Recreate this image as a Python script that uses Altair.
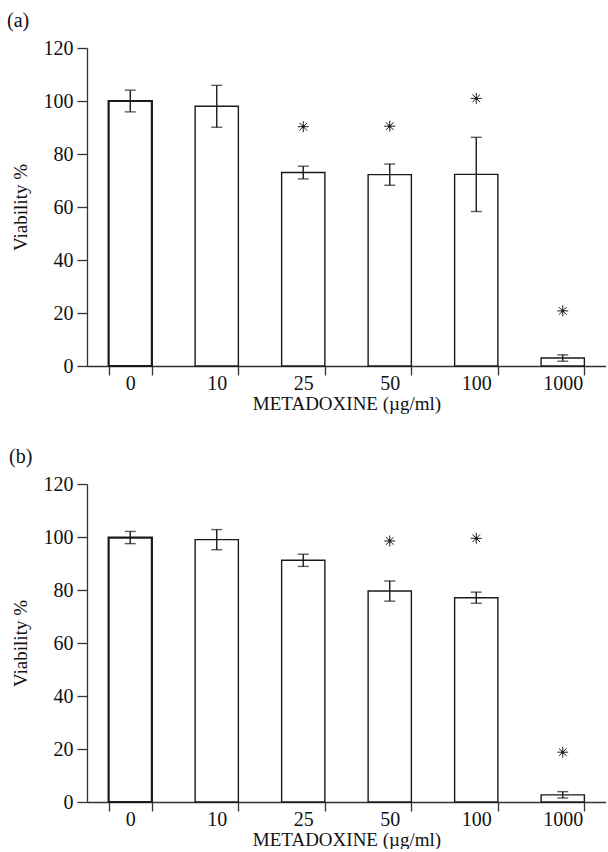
import altair as alt
import pandas as pd

doses = ["0", "10", "25", "50", "100", "1000"]

a_mean = [100.0, 98.0, 73.0, 72.2, 72.3, 3.0]
a_err = [4.1, 7.9, 2.4, 4.0, 14.0, 1.2]
a_star = [None, None, 90.3, 90.5, 101.0, 20.8]

b_mean = [99.8, 99.0, 91.2, 79.6, 77.1, 2.7]
b_err = [2.3, 3.8, 2.3, 3.8, 2.1, 1.2]
b_star = [None, None, None, 98.5, 99.5, 18.8]

y_ticks = [0, 20, 40, 60, 80, 100, 120]
x_title = "METADOXINE (µg/ml)"
y_title = "Viability %"

FONT = "Liberation Serif"
INK = "#1a1a1a"
STAR = "M-1,0L1,0M0,-1L0,1M-0.7,-0.7L0.7,0.7M-0.7,0.7L0.7,-0.7"


def panel(mean, err, star, label, lab_x):
    df = pd.DataFrame({
        "dose": doses,
        "v": mean,
        "lo": [m - e for m, e in zip(mean, err)],
        "hi": [m + e for m, e in zip(mean, err)],
        "star": star,
    })
    x = alt.X(
        "dose:N", sort=doses,
        scale=alt.Scale(paddingInner=0.5, paddingOuter=0.25),
        axis=alt.Axis(title=x_title, tickBand="extent", labelAngle=0,
                      tickSize=9, labelPadding=-2, titlePadding=1),
    )
    y = alt.Y(
        "v:Q",
        scale=alt.Scale(domain=[0, 120], nice=False),
        axis=alt.Axis(values=y_ticks, title=y_title, tickSize=10,
                      labelPadding=4, titlePadding=13),
    )
    base = alt.Chart(df)
    bars = base.mark_bar(fill="white", stroke=INK).encode(
        x=x, y=y,
        strokeWidth=alt.condition(alt.datum.dose == "0", alt.value(2.2), alt.value(1.4)),
    )
    xs = alt.X("dose:N", sort=doses)
    rule = base.mark_rule(color=INK, strokeWidth=1.4).encode(
        x=xs, y="lo:Q", y2="hi:Q")
    cap_lo = base.mark_tick(color=INK, size=11, thickness=1.4, orient="horizontal").encode(
        x=xs, y="lo:Q")
    cap_hi = base.mark_tick(color=INK, size=11, thickness=1.4, orient="horizontal").encode(
        x=xs, y="hi:Q")
    stars = base.transform_filter("isValid(datum.star)").mark_point(
        shape=STAR, size=120, stroke=INK, strokeWidth=1.0, filled=False, opacity=1
    ).encode(x=xs, y="star:Q")
    dots = base.transform_filter("isValid(datum.star)").mark_point(
        shape="circle", size=8, fill=INK, filled=True, opacity=1
    ).encode(x=xs, y="star:Q")
    lab = alt.Chart(pd.DataFrame({"t": [label]})).mark_text(
        align="left", baseline="alphabetic", font=FONT, fontSize=20, color="#111"
    ).encode(x=alt.value(lab_x), y=alt.value(-21), text="t:N")
    return alt.layer(bars, rule, cap_lo, cap_hi, stars, dots, lab).properties(
        width=519, height=318)


top = panel(a_mean, a_err, a_star, "(a)", -80)
bot = panel(b_mean, b_err, b_star, "(b)", -78)

chart = alt.vconcat(top, bot, spacing=34).properties(
    padding={"left": 7, "top": 11, "right": 0, "bottom": 0},
    background="white",
).configure_view(stroke=None).configure_axis(
    grid=False,
    domainColor="#333", tickColor="#333", domainWidth=1.3, tickWidth=1.3,
    labelFont=FONT, labelFontSize=20, labelColor="#111",
    titleFont=FONT, titleFontSize=19, titleFontWeight="normal", titleColor="#111",
)

chart.save("out.html", embed_options={"renderer": "svg", "actions": False})
